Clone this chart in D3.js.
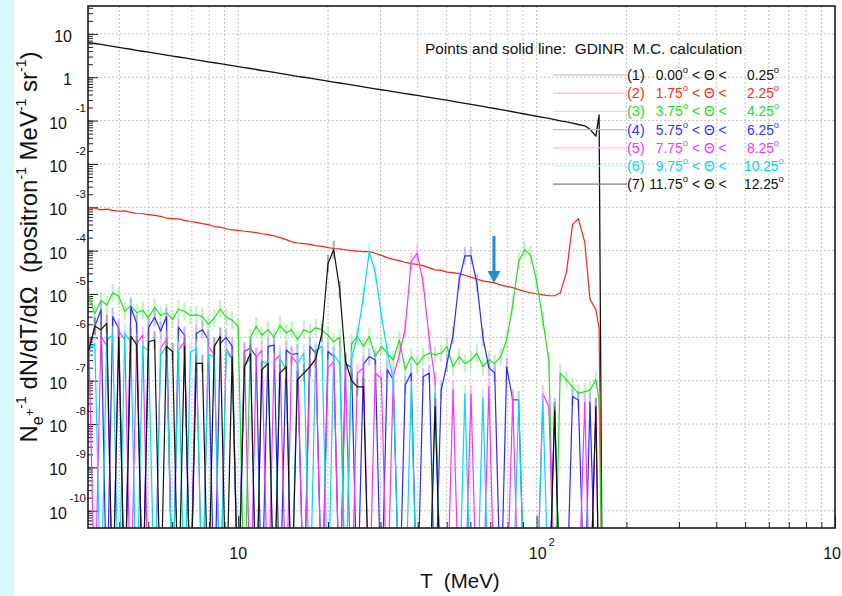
<!DOCTYPE html>
<html><head><meta charset="utf-8">
<script src="https://d3js.org/d3.v7.min.js"></script>
<style>
body{margin:0;background:#fff;}
svg{display:block;font-family:"Liberation Sans",Arial,Helvetica,sans-serif;}
text{white-space:pre;}
</style>
</head><body><svg id="c" width="842" height="596"></svg>
<script>
// ---------------- data ----------------
const T = [3.16,3.31,3.47,3.63,3.80,3.98,4.17,4.37,4.57,4.79,
 5.01,5.25,5.50,5.75,6.03,6.31,6.61,6.92,7.24,7.59,
 7.94,8.32,8.71,9.12,9.55,10.0,10.5,11.0,11.5,12.0,
 12.6,13.2,13.8,14.5,15.1,15.8,16.6,17.4,18.2,19.1,
 20.0,20.9,21.9,22.9,24.0,25.1,26.3,27.5,28.8,30.2,
 31.6,33.1,34.7,36.3,38.0,39.8,41.7,43.7,45.7,47.9,
 50.1,52.5,55.0,57.5,60.3,63.1,66.1,69.2,72.4,75.9,
 79.4,83.2,87.1,91.2,95.5,100,105,110,115,120,
 126,132,138,145,151,158,162,166];

// (1) 0.00 < theta < 0.25
const theta00 = [6.31,6.00,5.70,5.41,5.14,4.89,4.65,4.42,4.19,3.98,
 3.78,3.60,3.42,3.24,3.08,2.93,2.79,2.65,2.51,2.39,
 2.27,2.16,2.05,1.95,1.85,1.76,1.67,1.59,1.51,1.43,
 1.36,1.29,1.23,1.17,1.11,1.05,1.00,0.953,0.904,0.859,
 0.817,0.776,0.736,0.700,0.665,0.632,0.601,0.570,0.542,0.515,
 0.490,0.466,0.443,0.421,0.400,0.380,0.361,0.344,0.327,0.310,
 0.295,0.279,0.264,0.250,0.237,0.224,0.212,0.200,0.190,0.179,
 0.170,0.160,0.151,0.142,0.134,0.126,0.119,0.112,0.105,0.0991,
 0.0933,0.0871,0.0813,0.0759,0.0631,0.0437,0.135,0];

// (2) 1.75 < theta < 2.25
const theta02 = [1.0e-3,9.5e-4,8.7e-4,9.1e-4,8.5e-4,8.1e-4,8.3e-4,7.6e-4,7.2e-4,7.1e-4,
 6.8e-4,6.5e-4,6.2e-4,5.6e-4,5.5e-4,5.4e-4,5.0e-4,4.7e-4,4.5e-4,4.2e-4,
 4.0e-4,3.6e-4,3.5e-4,3.2e-4,3.0e-4,2.95e-4,2.8e-4,2.7e-4,2.6e-4,2.45e-4,
 2.35e-4,2.2e-4,2.0e-4,1.8e-4,1.6e-4,1.5e-4,1.45e-4,1.4e-4,1.3e-4,1.26e-4,
 1.17e-4,1.12e-4,1.1e-4,1.05e-4,1.0e-4,9.8e-5,9.5e-5,9.5e-5,8.7e-5,7.8e-5,
 6.9e-5,6.3e-5,5.9e-5,5.4e-5,5.0e-5,4.8e-5,4.5e-5,4.0e-5,3.6e-5,3.5e-5,
 3.2e-5,3.1e-5,2.95e-5,2.7e-5,2.45e-5,2.2e-5,2.0e-5,1.9e-5,1.8e-5,1.6e-5,
 1.5e-5,1.4e-5,1.26e-5,1.15e-5,1.07e-5,1.0e-5,9.5e-6,9.1e-6,9.1e-6,1.05e-5,
 3.2e-5,4.0e-4,5.5e-4,1.6e-4,7.6e-6,4.4e-6,1.6e-6,0];

// (3) 3.75 < theta < 4.25
const theta04 = [8.9e-6,3.5e-6,7.1e-6,5.6e-6,1.07e-5,8.9e-6,4.0e-6,5.4e-6,3.7e-6,4.2e-6,
 2.8e-6,5.0e-6,3.2e-6,3.7e-6,2.6e-6,4.5e-6,4.0e-6,3.2e-6,3.3e-6,3.0e-6,
 2.0e-6,2.8e-6,4.5e-6,2.9e-6,2.5e-6,1.8e-6,0,1.0e-6,1.8e-6,1.12e-6,
 1.5e-6,1.0e-6,1.9e-6,1.26e-6,1.5e-6,8.9e-7,1.5e-6,1.29e-6,1.66e-6,1.5e-6,
 1.12e-6,7.9e-7,1.0e-6,0,7.2e-7,1.05e-6,6.2e-7,1.05e-6,3.6e-7,6.2e-7,
 4.3e-7,3.0e-7,8.7e-7,1.8e-7,3.6e-7,2.3e-7,3.6e-7,4.3e-7,4.0e-7,4.3e-7,
 6.2e-7,2.1e-7,3.6e-7,2.5e-7,3.0e-7,4.3e-7,2.1e-7,3.0e-7,2.5e-7,3.6e-7,
 8.9e-7,5.6e-6,5.6e-5,1.05e-4,7.9e-5,2.0e-5,2.5e-6,2.8e-7,0,1.5e-7,
 1.05e-7,7.2e-8,5.1e-8,5.6e-8,6.0e-8,1.05e-7,3.6e-8,0];

// (4) 5.75 < theta < 6.25
const theta06 = [5.0e-7,1.8e-6,4.3e-6,0,3.0e-6,1.6e-6,0,5.0e-6,2.1e-6,0,
 1.7e-6,2.9e-6,1.4e-6,3.0e-6,0,1.7e-6,1.12e-6,0,1.23e-6,1.5e-6,
 8.9e-7,0,7.2e-7,1.0e-6,6.2e-7,0,4.8e-7,5.6e-7,3.6e-7,0,
 6.2e-7,6.6e-7,0,5.1e-7,4.0e-7,4.3e-7,0,6.2e-7,4.3e-7,0,
 4.7e-7,3.6e-7,0,2.5e-7,2.0e-7,0,2.4e-7,3.6e-7,3.0e-7,0,
 1.8e-7,1.05e-7,0,7.9e-8,1.5e-7,0,1.23e-7,1.5e-7,0,6.0e-8,
 2.5e-7,1.12e-6,2.0e-5,7.6e-5,7.6e-5,1.8e-5,1.0e-6,2.0e-7,1.5e-7,0,
 2.1e-7,3.6e-8,3.6e-8,0,0,0,0,0,2.5e-8,0,
 0,4.3e-8,3.6e-8,0,3.2e-8,0,0,0];

// (5) 7.75 < theta < 8.25
const theta08 = [7.9e-7,0,1.05e-6,6.3e-7,0,1.4e-6,8.9e-7,0,7.1e-7,1.12e-6,
 0,0,5.6e-7,8.9e-7,0,5.0e-7,7.9e-7,0,4.5e-7,0,
 6.3e-7,4.0e-7,0,5.6e-7,3.2e-7,0,4.5e-7,0,3.5e-7,5.0e-7,
 0,2.8e-7,4.0e-7,0,3.6e-7,2.5e-7,0,2.1e-7,3.2e-7,0,
 2.0e-7,2.8e-7,0,1.8e-7,0,1.5e-7,2.0e-7,0,1.5e-7,1.12e-7,
 0,1.26e-7,4.0e-7,1.6e-6,5.6e-5,8.7e-5,1.8e-5,8.9e-7,1.0e-7,0,
 0,6.3e-8,0,0,5.0e-8,0,0,7.2e-8,0,0,
 0,4.0e-8,0,0,0,0,5.0e-8,2.5e-8,0,0,
 0,0,0,3.2e-8,0,2.5e-8,0,0];

// (6) 9.75 < theta < 10.25
const theta10 = [5.1e-7,7.2e-7,0,8.9e-7,1.12e-6,0,1.23e-6,7.9e-7,0,6.2e-7,
 5.0e-7,0,3.9e-7,6.3e-7,0,5.0e-7,0,4.5e-7,5.6e-7,0,
 4.0e-7,3.6e-7,0,4.5e-7,3.2e-7,0,2.1e-7,3.5e-7,0,2.8e-7,
 2.5e-7,0,3.2e-7,1.8e-7,0,2.5e-7,4.3e-7,0,5.0e-7,6.2e-7,
 0,4.0e-7,2.5e-7,0,3.2e-7,1.12e-6,8.9e-6,9.5e-5,3.2e-5,3.2e-6,
 5.0e-7,1.0e-7,0,0,6.3e-8,0,0,0,5.0e-8,0,
 0,0,0,5.0e-8,0,0,4.0e-8,0,0,0,
 0,0,3.2e-8,0,0,0,3.2e-8,0,0,0,
 0,0,0,0,0,0,0,0];

// (7) 11.75 < theta < 12.25
const theta12 = [5.1e-7,1.8e-6,1.5e-6,2.1e-6,0,1.0e-6,0,1.05e-6,6.8e-7,0,
 7.9e-7,8.7e-7,0,6.2e-7,4.7e-7,0,6.2e-7,0,2.5e-7,2.5e-7,
 0,6.2e-7,1.05e-6,0,3.6e-7,0,2.1e-7,4.3e-7,0,1.8e-7,
 2.5e-7,0,1.5e-7,2.1e-7,0,1.05e-7,1.5e-7,2.1e-7,3.2e-7,1.26e-6,
 5.0e-5,1.05e-4,1.26e-5,2.8e-7,1.0e-7,7.2e-8,7.2e-8,0,0,0,
 0,0,0,0,0,0,0,0,2.5e-8,0,
 0,0,0,0,0,0,0,0,0,0,
 0,0,0,0,0,0,0,0,2.0e-8,0,
 0,0,0,0,0,2.5e-8,0,0];

const seriesNames = ["(1)","(2)","(3)","(4)","(5)","(6)","(7)"];
const angleLow = ["0.00","1.75","3.75","5.75","7.75","9.75","11.75"];
const angleHigh = ["0.25","2.25","4.25","6.25","8.25","10.25","12.25"];
const xTickMajor = [10, 100, 1000];
const xTickExp = ["", "2", "3"];
const yTickExp = [1,0,-1,-2,-3,-4,-5,-6,-7,-8,-9,-10];
const headerText = "Points and solid line:  GDINR  M.C. calculation";

// ---------------- styles ----------------
const seriesValues = [theta00, theta02, theta04, theta06, theta08, theta10, theta12];
const lineColors = ['#111111','#ff2010','#22e022','#2a2aff','#ff30ff','#00dcec','#111111'];
const errColors  = ['#888888','#ff8080','#88ee88','#9090ff','#ff90ff','#80f0f8','#707070'];
const legLine    = ['#b8b8b8','#ffb8b8','#b8f2b8','#b8b8ff','#ffb8ff','#b8f8ff','#808080'];
const legText    = ['#111111','#ff2a1a','#22dd22','#3333ff','#ff33ff','#00d8ec','#111111'];

const svg = d3.select('#c');
const W = 842, H = 596;
const L = 88, R = 835, TOP = 6, B = 528;

svg.append('rect').attr('width', W).attr('height', H).attr('fill', '#fff');
svg.append('rect').attr('x', 0).attr('y', 0).attr('width', 14).attr('height', H).attr('fill', '#d4fafc');

const x = d3.scaleLog().domain([3.14, 1000]).range([L, R]);
const y = d3.scaleLog().domain([4.0e-11, 44]).range([B, TOP]);

// grid
const gGrid = svg.append('g');
x.ticks().filter(v => v > 3.14 && v < 1000).forEach(v => {
  gGrid.append('line').attr('x1', x(v)).attr('x2', x(v)).attr('y1', TOP).attr('y2', B)
    .attr('stroke', '#c4c4c4').attr('stroke-width', 1).attr('stroke-dasharray', '2,2');
});
yTickExp.forEach(e => {
  const yy = y(Math.pow(10, e));
  gGrid.append('line').attr('x1', L).attr('x2', R).attr('y1', yy).attr('y2', yy)
    .attr('stroke', '#c4c4c4').attr('stroke-width', 1).attr('stroke-dasharray', '2,2');
});

// axes ticks (inside)
const xMinor = x.ticks().filter(v => v > 3.14 && v < 1000 && xTickMajor.indexOf(v) < 0);
const ax1 = svg.append('g').attr('transform', `translate(0,${B})`)
  .call(d3.axisBottom(x).tickValues(xMinor).tickSize(-6).tickFormat(''));
const ax2 = svg.append('g').attr('transform', `translate(0,${B})`)
  .call(d3.axisBottom(x).tickValues(xTickMajor).tickSize(-12).tickFormat(''));
const yMinor = y.ticks(60).filter(v => v > 4.0e-11 && v < 44);
const ay1 = svg.append('g').attr('transform', `translate(${L},0)`)
  .call(d3.axisLeft(y).tickValues(yMinor).tickSize(-5).tickFormat(''));
const ay2 = svg.append('g').attr('transform', `translate(${L},0)`)
  .call(d3.axisLeft(y).tickValues(yTickExp.map(e => Math.pow(10, e))).tickSize(-10).tickFormat(''));
[ax1, ax2, ay1, ay2].forEach(a => {
  a.select('.domain').remove();
  a.selectAll('line').attr('stroke', '#222').attr('stroke-width', 1);
});

// clip
svg.append('clipPath').attr('id', 'clip').append('rect')
  .attr('x', L).attr('y', TOP).attr('width', R - L).attr('height', B - TOP);
const plot = svg.append('g').attr('clip-path', 'url(#clip)');

const yv = v => v > 0 ? y(v) : B + 80;
const line = d3.line().x((d, i) => x(T[i])).y(d => yv(d));

seriesValues.forEach((vals, s) => {
  const g = plot.append('g');
  if (s >= 2) {
    vals.forEach((v, i) => {
      if (v > 0) {
        g.append('line').attr('x1', x(T[i])).attr('x2', x(T[i]))
          .attr('y1', y(v * 1.6)).attr('y2', y(v / 1.6))
          .attr('stroke', errColors[s]).attr('stroke-width', 2.2).attr('stroke-opacity', 0.55);
      }
    });
  }
  g.append('path').datum(vals).attr('d', line).attr('fill', 'none')
    .attr('stroke', lineColors[s]).attr('stroke-width', s === 0 ? 1.3 : 1.2)
    .attr('stroke-linejoin', 'round');
});

// frame
svg.append('rect').attr('x', L).attr('y', TOP).attr('width', R - L).attr('height', B - TOP)
  .attr('fill', 'none').attr('stroke', '#1a1a1a').attr('stroke-width', 1.6);

// y tick labels
const gy = svg.append('g').attr('fill', '#111');
yTickExp.forEach(e => {
  const yy = y(Math.pow(10, e));
  if (e === 1 || e === 0) {
    gy.append('text').attr('x', 72).attr('y', yy + 8).attr('text-anchor', 'end')
      .attr('font-size', 16).text(e === 1 ? '10' : '1');
  } else {
    gy.append('text').attr('x', 67).attr('y', yy + 8).attr('text-anchor', 'end')
      .attr('font-size', 16).text('10');
    gy.append('text').attr('x', 86).attr('y', yy - 9).attr('text-anchor', 'end')
      .attr('font-size', 11.5).text(String(e));
  }
});

// x tick labels
xTickMajor.forEach((v, k) => {
  const xx = x(v);
  if (xTickExp[k] === '') {
    svg.append('text').attr('x', xx).attr('y', 559).attr('text-anchor', 'middle')
      .attr('font-size', 16).attr('fill', '#111').text('10');
  } else {
    const xe = Math.min(xx + 10, W - 1);
    svg.append('text').attr('x', xe).attr('y', 559).attr('text-anchor', 'end')
      .attr('font-size', 16).attr('fill', '#111').text('10');
    if (xe + 8 < W) {
      svg.append('text').attr('x', xe + 2).attr('y', 546).attr('text-anchor', 'start')
        .attr('font-size', 11.5).attr('fill', '#111').text(xTickExp[k]);
    }
  }
});

// axis titles
svg.append('text').attr('x', 460).attr('y', 588).attr('text-anchor', 'middle')
  .attr('font-size', 20.5).attr('fill', '#111').text('T  (MeV)');

function rich(textSel, parts) {
  let prev = 0;
  parts.forEach(p => {
    const [str, size, shift] = p;
    textSel.append('tspan').attr('font-size', size).attr('dy', -(shift - prev)).text(str);
    prev = shift;
  });
}
const yt = svg.append('text').attr('transform', 'translate(37,247) rotate(-90)')
  .attr('text-anchor', 'middle').attr('fill', '#111').attr('font-size', 24);
rich(yt, [['N', 24, 0], ['e', 16, -6], ['+', 13, 3], ['-1', 14, 11],
  [' dN/dT/d\u03A9  (positron', 24, 0], ['-1', 14, 11], [' MeV', 24, 0], ['-1', 14, 11],
  [' sr', 24, 0], ['-1', 14, 11], [')', 24, 0]]);

// legend
svg.append('text').attr('x', 425).attr('y', 54).attr('font-size', 15.4).attr('fill', '#111')
  .text(headerText);
const fs = 13.8;
seriesNames.forEach((nm, k) => {
  const cy = 75 + 18.2 * k;
  svg.append('line').attr('x1', 553).attr('x2', 627).attr('y1', cy).attr('y2', cy)
    .attr('stroke', legLine[k]).attr('stroke-width', 1.2);
  const col = legText[k];
  svg.append('text').attr('x', 627).attr('y', cy + 5).attr('font-size', 14.5).attr('fill', col).text(nm);
  const t1 = svg.append('text').attr('x', 688).attr('y', cy + 5).attr('text-anchor', 'end')
    .attr('font-size', fs).attr('fill', col);
  t1.append('tspan').text(angleLow[k]);
  t1.append('tspan').attr('font-size', 9.5).attr('dy', -7).text('o');
  svg.append('text').attr('x', 692).attr('y', cy + 5).attr('font-size', fs).attr('fill', col)
    .text('< \u0398 <');
  const t2 = svg.append('text').attr('x', angleHigh[k].length > 4 ? 744 : 747).attr('y', cy + 5)
    .attr('font-size', fs).attr('fill', col);
  t2.append('tspan').text(angleHigh[k]);
  t2.append('tspan').attr('font-size', 9.5).attr('dy', -7).text('o');
});

// arrow
const ax = 494;
svg.append('line').attr('x1', ax).attr('x2', ax).attr('y1', 236).attr('y2', 273)
  .attr('stroke', '#1f8fd0').attr('stroke-width', 3);
svg.append('path').attr('d', `M${ax - 6.5},271 L${ax + 6.5},271 L${ax},283 Z`).attr('fill', '#1f8fd0');
</script>
</body></html>
